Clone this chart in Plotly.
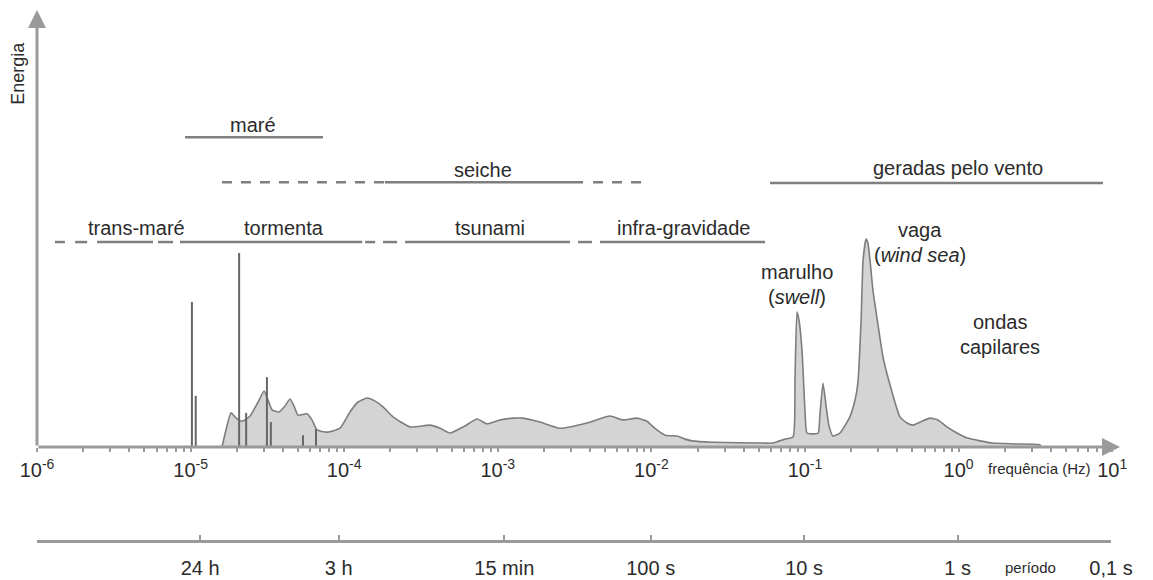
import plotly.graph_objects as go

# ---------------- data ----------------
# energy spectrum (frequency in Hz, energy in arbitrary units 0-100)
spec_freq = [1.60e-5, 1.70e-5, 1.83e-5, 1.98e-5, 2.16e-5, 2.44e-5, 2.75e-5, 3.01e-5, 3.19e-5, 3.39e-5,
             3.76e-5, 4.12e-5, 4.44e-5, 4.71e-5, 5.00e-5, 5.73e-5, 6.17e-5, 6.65e-5, 7.73e-5, 9.39e-5,
             1.09e-4, 1.23e-4, 1.41e-4, 1.59e-4, 1.79e-4, 2.08e-4, 2.68e-4, 3.62e-4, 4.21e-4, 4.89e-4,
             6.11e-4, 7.32e-4, 8.51e-4, 1.03e-3, 1.26e-3, 1.46e-3, 1.88e-3, 2.54e-3, 3.81e-3, 5.38e-3,
             6.53e-3, 8.06e-3, 9.36e-3, 1.05e-2, 1.23e-2, 1.47e-2, 1.66e-2, 1.84e-2, 2.52e-2, 5.33e-2,
             6.19e-2, 7.41e-2, 8.36e-2, 8.61e-2, 8.87e-2, 9.14e-2, 9.56e-2, 0.100, 0.103, 0.113,
             0.122, 0.125, 0.131, 0.137, 0.143, 0.152, 0.169, 0.196, 0.212, 0.221,
             0.232, 0.239, 0.250, 0.257, 0.265, 0.277, 0.299, 0.322, 0.358, 0.415,
             0.461, 0.505, 0.578, 0.651, 0.734, 0.840, 0.976, 1.13, 1.38, 1.67,
             2.33, 3.39, 3.40]
spec_energy = [0.0, 3.9, 7.8, 6.6, 5.9, 7.1, 10.3, 12.8, 10.8, 8.5,
               8.0, 9.4, 11.0, 9.4, 7.3, 7.6, 6.2, 3.9, 3.4, 4.3,
               8.0, 10.3, 11.2, 10.5, 9.2, 6.9, 4.6, 5.0, 4.3, 3.2,
               4.8, 6.4, 5.3, 6.2, 6.6, 6.6, 5.7, 4.3, 5.5, 7.1,
               6.2, 6.6, 5.9, 4.3, 2.7, 2.5, 1.8, 1.4, 1.1, 0.9,
               0.9, 1.8, 2.3, 15.3, 30.9, 29.1, 22.2, 8.5, 3.2, 3.0,
               3.2, 7.3, 14.6, 9.6, 5.0, 2.5, 3.2, 6.9, 10.8, 14.6,
               29.1, 42.8, 47.6, 46.7, 42.8, 35.9, 27.9, 20.6, 14.2, 6.9,
               5.5, 5.0, 5.9, 6.6, 6.2, 4.6, 3.2, 2.1, 1.4, 0.9,
               0.7, 0.5, 0.0]

# tidal constituents (discrete lines)
tide_freq = [1.02e-5, 1.08e-5, 2.07e-5, 2.30e-5, 3.14e-5, 3.33e-5, 5.39e-5, 6.55e-5]
tide_energy = [33.2, 11.7, 44.4, 7.8, 16.0, 5.7, 2.7, 4.1]

# frequency bands (Hz), drawn at an energy level
mare_level = 70.9
mare_solid = [(9.2e-6, 7.28e-5)]
seiche_level = 60.6
seiche_solid = [(1.84e-4, 3.59e-3)]
seiche_dashed = [(1.60e-5, 1.84e-4), (4.17e-3, 9.51e-3)]
vento_level = 60.4
vento_solid = [(5.92e-2, 8.71)]
lower_level = 46.9
lower_solid = [(1.31e-6, 1.52e-6), (1.77e-6, 2.12e-6), (2.46e-6, 5.69e-6), (6.13e-6, 7.68e-6),
               (8.53e-6, 1.31e-4), (1.37e-4, 1.59e-4), (1.79e-4, 2.21e-4), (2.49e-4, 2.95e-3),
               (3.33e-3, 4.10e-3), (4.63e-3, 5.49e-2)]

# text labels: (text, log10 frequency, energy)
band_labels = [
    ("maré", -4.594, 73.7),
    ("seiche", -3.096, 63.4),
    ("geradas pelo vento", -0.004, 63.8),
    ("trans-maré", -5.349, 50.1),
    ("tormenta", -4.392, 50.1),
    ("tsunami", -3.051, 50.1),
    ("infra-gravidade", -1.788, 50.1),
    ("marulho", -1.052, 40.0),
    ("(<i>swell</i>)", -1.052, 34.3),
    ("vaga", -0.251, 49.7),
    ("(<i>wind sea</i>)", -0.251, 43.9),
    ("ondas", 0.270, 28.6),
    ("capilares", 0.270, 22.9),
]

freq_exponents = [-6, -5, -4, -3, -2, -1, 0, 1]
freq_ticktext = ["10<sup>%d</sup>" % e for e in freq_exponents]
period_seconds = [86400, 10800, 900, 100, 10, 1, 0.1]
period_labels = ["24 h", "3 h", "15 min", "100 s", "10 s", "1 s", "0,1 s"]

# ---------------- styles ----------------
FONT = "Liberation Sans, Arial, Helvetica, sans-serif"
TXT = "#2b2b2b"
AXC = "#9a9a9a"
BAR = "#7f7f7f"

fig = go.Figure()

# spectrum
fig.add_trace(go.Scatter(x=spec_freq, y=spec_energy, mode="lines", fill="tozeroy",
                         fillcolor="#d4d4d4", line=dict(color="#7d7d7d", width=1.6, shape="spline", smoothing=0.5),
                         hoverinfo="skip", showlegend=False))

# tidal lines
tx, ty = [], []
for f, e in zip(tide_freq, tide_energy):
    tx += [f, f, None]
    ty += [0, e, None]
fig.add_trace(go.Scatter(x=tx, y=ty, mode="lines", line=dict(color="#666666", width=2),
                         hoverinfo="skip", showlegend=False))


def seg_trace(segs, level, dash="solid"):
    xs, ys = [], []
    for a, b in segs:
        xs += [a, b, None]
        ys += [level, level, None]
    return go.Scatter(x=xs, y=ys, mode="lines", line=dict(color=BAR, width=2.5, dash=dash),
                      hoverinfo="skip", showlegend=False)


fig.add_trace(seg_trace(mare_solid, mare_level))
fig.add_trace(seg_trace(seiche_solid, seiche_level))
fig.add_trace(seg_trace(seiche_dashed, seiche_level, dash="10px,9px"))
fig.add_trace(seg_trace(vento_solid, vento_level))
fig.add_trace(seg_trace(lower_solid, lower_level))

# dummy trace for period axis
fig.add_trace(go.Scatter(x=[1e-6], y=[0], xaxis="x2", yaxis="y2", mode="markers",
                         marker=dict(opacity=0), hoverinfo="skip", showlegend=False))

# minor + major tick positions of frequency axis
ftickvals, fticktext = [], []
for i, e in enumerate(freq_exponents):
    ftickvals.append(10.0 ** e)
    fticktext.append(freq_ticktext[i])
    if e < 1:
        for m in range(2, 10):
            ftickvals.append(m * 10.0 ** e)
            fticktext.append("")

annotations = []
for t, lx, ly in band_labels:
    annotations.append(dict(text=t, x=lx, y=ly, xref="x", yref="y", showarrow=False,
                            xanchor="center", yanchor="middle",
                            font=dict(family=FONT, size=20, color=TXT)))

annotations.append(dict(text="frequência (Hz)", xref="paper", yref="paper", x=0.926, y=0.1358,
                        showarrow=False, xanchor="center", yanchor="middle",
                        font=dict(family=FONT, size=15, color=TXT)))
annotations.append(dict(text="período", xref="paper", yref="paper", x=0.917, y=-0.0528, showarrow=False,
                        xanchor="center", yanchor="middle", font=dict(family=FONT, size=15, color=TXT)))
annotations.append(dict(text="Energia", xref="paper", x=-0.0175, yref="y", y=85.4, textangle=-90,
                        showarrow=False, xanchor="center", yanchor="middle",
                        font=dict(family=FONT, size=18, color=TXT)))
# axis arrows
annotations.append(dict(text="", xref="paper", yref="paper", x=0, y=1, ax=0, ay=437,
                        showarrow=True, arrowhead=2, arrowsize=1.2, arrowwidth=3, arrowcolor=AXC))
annotations.append(dict(text="", xref="paper", yref="y", x=1, y=0, ax=-1083, ay=0,
                        showarrow=True, arrowhead=2, arrowsize=1.2, arrowwidth=3, arrowcolor=AXC))

# the page body adds an 8px offset, so the figure is 8px smaller on each side
fig.update_layout(
    width=1145, height=572,
    margin=dict(l=29, r=33, t=2, b=40, autoexpand=False),
    paper_bgcolor="white", plot_bgcolor="white",
    font=dict(family=FONT, color=TXT),
    showlegend=False,
    xaxis=dict(type="log", range=[-6, 1.051], domain=[0, 1], anchor="y", automargin=False,
               showgrid=False, zeroline=False, showline=False,
               tickmode="array", tickvals=ftickvals, ticktext=fticktext,
               ticks="outside", ticklen=4, tickwidth=1.5, tickcolor=AXC,
               tickfont=dict(family=FONT, size=20, color=TXT), ticklabelstandoff=1),
    yaxis=dict(range=[0, 100], domain=[0.17547, 1], visible=False, fixedrange=True, automargin=False),
    xaxis2=dict(type="log", range=[-6, 1], domain=[0, 0.9917], anchor="y2", automargin=False,
                showgrid=False, zeroline=False, showline=True, linecolor=AXC, linewidth=2.5,
                tickmode="array", tickvals=[1.0 / p for p in period_seconds], ticktext=period_labels,
                ticks="inside", ticklen=5, tickwidth=2, tickcolor=AXC,
                tickfont=dict(family=FONT, size=20, color=TXT), ticklabelstandoff=8),
    yaxis2=dict(range=[0, 1], domain=[0, 0.001], visible=False, fixedrange=True, automargin=False),
    annotations=annotations,
)

fig.write_html("out.html")
